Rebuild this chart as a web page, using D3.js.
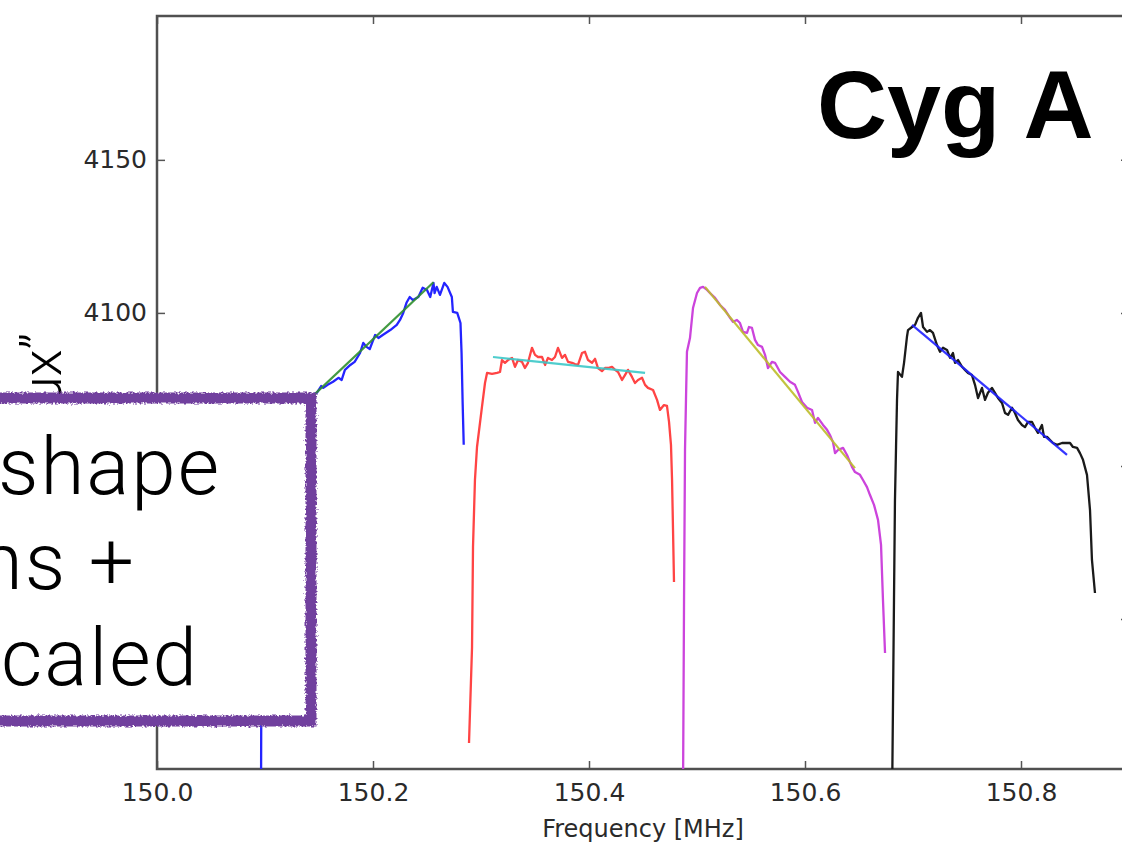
<!DOCTYPE html>
<html>
<head>
<meta charset="utf-8">
<script src="https://cdn.jsdelivr.net/npm/d3@7"></script>
<style>
	body { margin: 0; background: white; overflow: hidden; }
	svg { display: block; }
</style>
</head>
<body>
<script>
const width = 1122, height = 843;

// axis ticks
const xTicks = [150.0, 150.2, 150.4, 150.6, 150.8];
const yTicks = [4000, 4050, 4100, 4150];
const yLabelled = [4100, 4150]; // the others sit behind the box

// subband 1 (blue)
const blueFreq = [150.0963, 150.0972, 150.1000, 150.1050, 150.1090, 150.1140, 150.1185, 150.1230, 150.1280, 150.1320, 150.1370, 150.1420,
	150.148, 150.152, 150.154, 150.158, 150.163, 150.168, 150.171, 150.174, 150.179, 150.183, 150.188, 150.191, 150.194, 150.197,
	150.202, 150.205, 150.209, 150.216, 150.222, 150.225, 150.228, 150.231, 150.234, 150.237, 150.242, 150.246, 150.250, 150.253,
	150.256, 150.257, 150.259, 150.262, 150.266, 150.269, 150.273, 150.274, 150.278, 150.281, 150.282, 150.283, 150.284];
const blueFlux = [3940, 4050, 4062, 4064, 4065, 4066, 4068, 4069, 4070, 4071, 4072, 4073,
	4073.9, 4076.1, 4075.5, 4076.5, 4077.5, 4078.8, 4078.1, 4081.4, 4083.0, 4084.0, 4086.9, 4090.2, 4088.9, 4088.2,
	4092.8, 4091.8, 4092.8, 4094.4, 4096.1, 4097.7, 4100.0, 4103.3, 4105.2, 4104.2, 4105.2, 4108.2, 4107.5, 4105.2,
	4109.8, 4106.5, 4108.5, 4105.9, 4109.8, 4108.5, 4105.2, 4100.3, 4100.0, 4096.7, 4086.9, 4070.6, 4056.9];

// subband 2 (red)
const redFreq = [150.2889, 150.2917, 150.2926, 150.2944, 150.2963, 150.3009, 150.3037, 150.3056, 150.3102, 150.3148, 150.3176,
	150.3194, 150.3222, 150.3250, 150.3287, 150.3315, 150.3343, 150.3380, 150.3407, 150.3435, 150.3472, 150.3500, 150.3528,
	150.3565, 150.3593, 150.3620, 150.3657, 150.3685, 150.3713, 150.3750, 150.3778, 150.3806, 150.3843, 150.3870, 150.3898,
	150.3935, 150.3963, 150.3991, 150.4028, 150.4056, 150.4083, 150.4120, 150.4148, 150.4176, 150.4213, 150.4241, 150.4269,
	150.4306, 150.4333, 150.4361, 150.4398, 150.4426, 150.4454, 150.4491, 150.4519, 150.4546, 150.4593, 150.4630, 150.4657,
	150.4694, 150.4722, 150.4741, 150.4759, 150.4769, 150.4778, 150.4787];
const redFlux = [3959.5, 3990.8, 4023.5, 4045.4, 4056.2, 4069.3, 4077.1, 4080.4, 4080.1, 4080.4, 4080.7,
	4084.6, 4083.7, 4084.6, 4085.3, 4082.4, 4084.6, 4084.0, 4082.0, 4083.7, 4088.6, 4086.3, 4085.6,
	4085.6, 4083.0, 4085.3, 4084.6, 4085.6, 4088.6, 4085.3, 4086.3, 4084.0, 4083.7, 4083.3, 4083.0,
	4086.9, 4087.3, 4084.6, 4083.7, 4085.0, 4082.0, 4081.0, 4082.0, 4082.0, 4082.4, 4081.4, 4080.7,
	4078.1, 4079.7, 4081.4, 4079.1, 4077.1, 4078.1, 4078.8, 4076.5, 4075.5, 4074.8, 4071.6, 4068.3,
	4069.9, 4069.6, 4064.4, 4056.9, 4045.4, 4029.1, 4012.1];

// subband 3 (magenta)
const magFreq = [150.4870, 150.4880, 150.4889, 150.4898, 150.4907, 150.4935, 150.4963, 150.5000, 150.5028, 150.5056, 150.5093,
	150.5120, 150.5167, 150.5213, 150.5259, 150.5306, 150.5333, 150.5370, 150.5398, 150.5426, 150.5463, 150.5481, 150.5509,
	150.5537, 150.5565, 150.5602, 150.5630, 150.5657, 150.5694, 150.5722, 150.5769, 150.5815, 150.5861, 150.5907, 150.5935,
	150.5972, 150.6019, 150.6065, 150.6093, 150.6120, 150.6167, 150.6204, 150.6231, 150.6259, 150.6278, 150.6306, 150.6352,
	150.6389, 150.6435, 150.6463, 150.6509, 150.6537, 150.6574, 150.6602, 150.6639, 150.6676, 150.6704, 150.6722, 150.6741];
const magFlux = [3940, 4006.2, 4055.2, 4071.6, 4087.3, 4091.8, 4101.6, 4106.5, 4108.2, 4108.5, 4107.5,
	4106.5, 4104.9, 4102.6, 4101.0, 4098.4, 4097.1, 4097.7, 4096.7, 4093.8, 4093.5, 4095.4, 4095.1,
	4091.2, 4089.5, 4088.9, 4086.3, 4082.0, 4084.0, 4083.7, 4080.7, 4079.1, 4077.5, 4076.5, 4074.2,
	4070.9, 4069.0, 4068.3, 4064.1, 4065.7, 4063.4, 4061.8, 4060.1, 4057.8, 4054.2, 4055.2, 4055.9,
	4053.6, 4049.7, 4048.0, 4047.1, 4045.4, 4043.1, 4040.5, 4037.3, 4032.4, 4024.2, 4006.2, 3988.9];

// subband 4 (black)
const blackFreq = [150.6806, 150.6824, 150.6833, 150.6843, 150.6852, 150.6861, 150.6898, 150.6917, 150.6944, 150.6954, 150.6991,
	150.7019, 150.7046, 150.7074, 150.7093, 150.7130, 150.7157, 150.7185, 150.7222, 150.7250, 150.7278, 150.7315, 150.7343,
	150.7370, 150.7389, 150.7417, 150.7454, 150.7481, 150.7509, 150.7546, 150.7574, 150.7602, 150.7639, 150.7667, 150.7694,
	150.7731, 150.7759, 150.7787, 150.7824, 150.7852, 150.7880, 150.7917, 150.7944, 150.7972, 150.8009, 150.8037, 150.8065,
	150.8102, 150.8130, 150.8157, 150.8194, 150.8213, 150.8241, 150.8269, 150.8296, 150.8333, 150.8380, 150.8426, 150.8454,
	150.8481, 150.8519, 150.8546, 150.8574, 150.8611, 150.8639, 150.8657, 150.8685];
const blackFlux = [3940, 4006.2, 4038.9, 4056.2, 4071.6, 4080.7, 4079.1, 4083.7, 4092.2, 4094.4, 4095.4,
	4096.1, 4098.4, 4100.0, 4095.4, 4093.8, 4094.4, 4093.5, 4089.5, 4087.3, 4088.6, 4087.9, 4085.3,
	4086.9, 4083.7, 4084.6, 4082.4, 4081.4, 4080.4, 4079.7, 4076.5, 4072.2, 4075.5, 4071.6, 4073.9,
	4075.5, 4073.9, 4072.2, 4070.6, 4067.3, 4066.7, 4069.0, 4067.3, 4065.0, 4063.4, 4062.7, 4064.4,
	4064.4, 4062.4, 4060.8, 4063.4, 4059.5, 4059.5, 4058.5, 4057.5, 4056.9, 4057.5, 4057.5, 4057.5,
	4056.2, 4055.9, 4054.2, 4052.0, 4047.1, 4035.6, 4019.3, 4008.5];

// straight-line fits, [start, end]
const fitFreq = [[150.123, 150.256], [150.3111, 150.4519], [150.5074, 150.6463], [150.6991, 150.8426]];
const fitFlux = [[4065.8, 4110.0], [4085.6, 4080.4], [4108.5, 4049.3], [4096.1, 4053.6]];

const dataColors = ["#2424ff", "#ff4444", "#cc44dc", "#1a1a1a"];
const fitColors = ["#2f8f2f", "#3cc8c8", "#bdbd2a", "#2020ff"];

const boxLines = ["shape", "ns +", "caled"];

const margin = {left: 157, top: 16, right: 1129, bottom: 769};
const x = d3.scaleLinear().domain([150.0, 150.9]).range([margin.left, margin.right]);
const y = d3.scaleLinear().domain([3951, 4197]).range([margin.bottom, margin.top]);

const svg = d3.select("body")
	.append("svg")
	.attr("width", width)
	.attr("height", height);

function main() {
	drawAxes();
	drawData();
	drawLabels();
	drawBox();
}

function drawAxes() {
	const tickFont = "'DejaVu Sans', sans-serif";
	const yFmt = d => yLabelled.includes(d) ? d3.format("d")(d) : "";
	const axes = [
		{ax: d3.axisBottom(x).tickValues(xTicks).tickFormat(d3.format(".1f")).tickPadding(14), tr: `translate(0,${margin.bottom})`},
		{ax: d3.axisTop(x).tickValues(xTicks).tickFormat(""), tr: `translate(0,${margin.top})`},
		{ax: d3.axisLeft(y).tickValues(yTicks).tickFormat(yFmt).tickPadding(10), tr: `translate(${margin.left},0)`},
		{ax: d3.axisRight(y).tickValues(yTicks).tickFormat(""), tr: `translate(${margin.right},0)`}
	];
	for (let a of axes) {
		let g = svg.append("g")
			.attr("transform", a.tr)
			.call(a.ax.tickSize(-8));
		g.select(".domain").remove();
		g.selectAll("line").attr("stroke", "#555").attr("stroke-width", 1.5);
		g.selectAll("text")
			.attr("font-family", tickFont)
			.attr("font-size", 25)
			.attr("fill", "#2a2a2a");
	}

	svg.append("rect")
		.attr("x", margin.left)
		.attr("y", margin.top)
		.attr("width", margin.right - margin.left)
		.attr("height", margin.bottom - margin.top)
		.attr("fill", "none")
		.attr("stroke", "#505050")
		.attr("stroke-width", 2.5);

	svg.append("text")
		.attr("x", 643)
		.attr("y", 837)
		.attr("text-anchor", "middle")
		.attr("font-family", tickFont)
		.attr("font-size", 24)
		.attr("fill", "#2a2a2a")
		.text("Frequency [MHz]");
}

function drawData() {
	svg.append("clipPath")
		.attr("id", "plotclip")
		.append("rect")
		.attr("x", margin.left)
		.attr("y", margin.top)
		.attr("width", margin.right - margin.left)
		.attr("height", margin.bottom - margin.top);

	const line = d3.line().x(d => x(d[0])).y(d => y(d[1]));
	const plot = svg.append("g").attr("clip-path", "url(#plotclip)");

	const series = [[blueFreq, blueFlux], [redFreq, redFlux], [magFreq, magFlux], [blackFreq, blackFlux]];
	series.forEach((s, i) => {
		plot.append("path")
			.attr("d", line(d3.zip(s[0], s[1])))
			.attr("fill", "none")
			.attr("stroke", dataColors[i])
			.attr("stroke-width", 2.3)
			.attr("stroke-linejoin", "round");
	});
	fitFreq.forEach((f, i) => {
		plot.append("path")
			.attr("d", line(d3.zip(f, fitFlux[i])))
			.attr("fill", "none")
			.attr("stroke", fitColors[i])
			.attr("stroke-width", 2.2)
			.attr("opacity", 0.9);
	});
}

function drawLabels() {
	svg.append("text")
		.attr("x", 817)
		.attr("y", 138)
		.attr("font-family", "'Liberation Sans', Arial, sans-serif")
		.attr("font-weight", "bold")
		.attr("font-size", 97)
		.attr("fill", "black")
		.text("Cyg A");

	// slide's y label, mostly hidden behind the box
	svg.append("text")
		.attr("transform", "translate(61,333) rotate(-90)")
		.attr("text-anchor", "end")
		.attr("font-family", "Roboto, 'Liberation Sans', sans-serif")
		.attr("font-weight", 300)
		.attr("font-size", 55)
		.attr("fill", "black")
		.text("\u201cFlux\u201d");
}

function drawBox() {
	const defs = svg.append("defs");
	const filt = defs.append("filter")
		.attr("id", "rough")
		.attr("x", "-10%").attr("y", "-10%")
		.attr("width", "120%").attr("height", "120%");
	filt.append("feTurbulence")
		.attr("type", "fractalNoise")
		.attr("baseFrequency", 0.45)
		.attr("numOctaves", 2)
		.attr("seed", 3)
		.attr("result", "noise");
	filt.append("feDisplacementMap")
		.attr("in", "SourceGraphic")
		.attr("in2", "noise")
		.attr("scale", 5)
		.attr("xChannelSelector", "R")
		.attr("yChannelSelector", "G");

	svg.append("rect")
		.attr("x", -30)
		.attr("y", 398)
		.attr("width", 341)
		.attr("height", 323)
		.attr("fill", "white")
		.attr("stroke", "#713f9e")
		.attr("stroke-width", 11)
		.attr("filter", "url(#rough)");

	const ends = [221, 136, 199];
	const baselines = [494, 589, 685];
	boxLines.forEach((t, i) => {
		svg.append("text")
			.attr("x", ends[i])
			.attr("y", baselines[i])
			.attr("text-anchor", "end")
			.attr("font-family", "Roboto, 'Liberation Sans', sans-serif")
			.attr("font-weight", 300)
			.attr("font-size", 80)
			.attr("letter-spacing", 2)
			.attr("fill", "black")
			.text(t);
	});
}

main()
</script>
</body>
</html>
